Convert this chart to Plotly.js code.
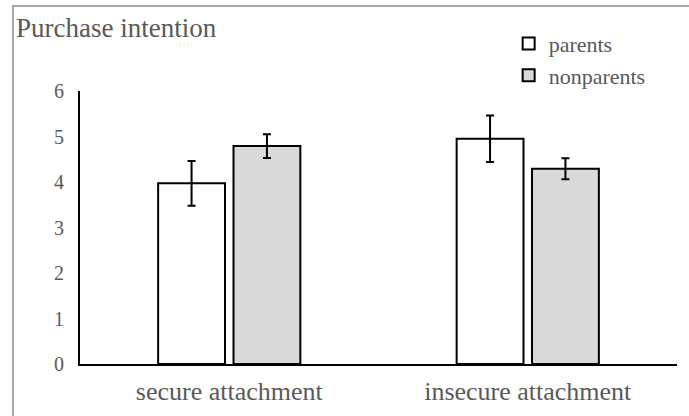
<!DOCTYPE html>
<html>
<head>
<meta charset="utf-8">
<script src="https://cdn.plot.ly/plotly-3.0.1.min.js"></script>
<style>
  html, body { margin: 0; padding: 0; background: #ffffff; overflow: hidden; }
  #wrap { position: relative; width: 689px; height: 416px; overflow: hidden; }
  #chart { position: absolute; left: 0; top: 0; width: 689px; height: 416px; }
  #frame { position: absolute; left: 12px; top: 5px; width: 800px; height: 600px;
           border: 2px solid #a6a6a6; pointer-events: none; box-sizing: border-box; }
</style>
</head>
<body>
<div id="wrap">
  <div id="chart"></div>
  <div id="frame"></div>
</div>
<script>
const categories = ["secure attachment", "insecure attachment"];
const seriesNames = ["parents", "nonparents"];
const parentsValues = [3.97, 4.95];
const parentsErrors = [0.49, 0.51];
const nonparentsValues = [4.79, 4.29];
const nonparentsErrors = [0.26, 0.23];
const yTickValues = [0, 1, 2, 3, 4, 5, 6];
const chartTitle = "Purchase intention";

const FONT = "Liberation Serif";
const GRAY = "#595959";

const traces = [
  {
    type: "bar",
    name: seriesNames[0],
    x: categories,
    y: parentsValues,
    marker: { color: "#ffffff", line: { color: "#000000", width: 2 } },
    error_y: { type: "data", array: parentsErrors, visible: true, color: "#000000", thickness: 2, width: 4 }
  },
  {
    type: "bar",
    name: seriesNames[1],
    x: categories,
    y: nonparentsValues,
    marker: { color: "#d9d9d9", line: { color: "#000000", width: 2 } },
    error_y: { type: "data", array: nonparentsErrors, visible: true, color: "#000000", thickness: 2, width: 4 }
  }
];

const layout = {
  width: 689,
  height: 416,
  margin: { l: 80, r: 12, t: 91, b: 52, pad: 0 },
  paper_bgcolor: "rgba(0,0,0,0)",
  plot_bgcolor: "rgba(0,0,0,0)",
  font: { family: FONT, color: GRAY, size: 20 },
  title: {
    text: chartTitle,
    font: { family: FONT, size: 27, color: GRAY },
    xref: "container", yref: "container",
    x: 16 / 689, xanchor: "left",
    y: 1 - 28 / 416, yanchor: "middle"
  },
  barmode: "group",
  bargap: 0.495,
  bargroupgap: 0.113,
  showlegend: true,
  legend: {
    x: 0.718, y: 1.25, xanchor: "left", yanchor: "top",
    font: { family: FONT, size: 22, color: GRAY },
    bgcolor: "rgba(0,0,0,0)",
    itemwidth: 30,
    tracegroupgap: 0,
    traceorder: "normal"
  },
  xaxis: {
    type: "category",
    showline: true, linecolor: "#000000", linewidth: 2,
    showgrid: false, zeroline: false,
    ticks: "",
    ticklabelstandoff: 3,
    tickfont: { family: FONT, size: 26, color: GRAY },
    fixedrange: true
  },
  yaxis: {
    range: [0, 6],
    tickvals: yTickValues,
    ticktext: yTickValues.map(String),
    showline: true, linecolor: "#000000", linewidth: 2,
    showgrid: false, zeroline: false,
    ticks: "",
    ticklabelstandoff: 10,
    tickfont: { family: FONT, size: 20, color: GRAY },
    fixedrange: true
  }
};

Plotly.newPlot("chart", traces, layout, { displayModeBar: false, staticPlot: true });
</script>
</body>
</html>
